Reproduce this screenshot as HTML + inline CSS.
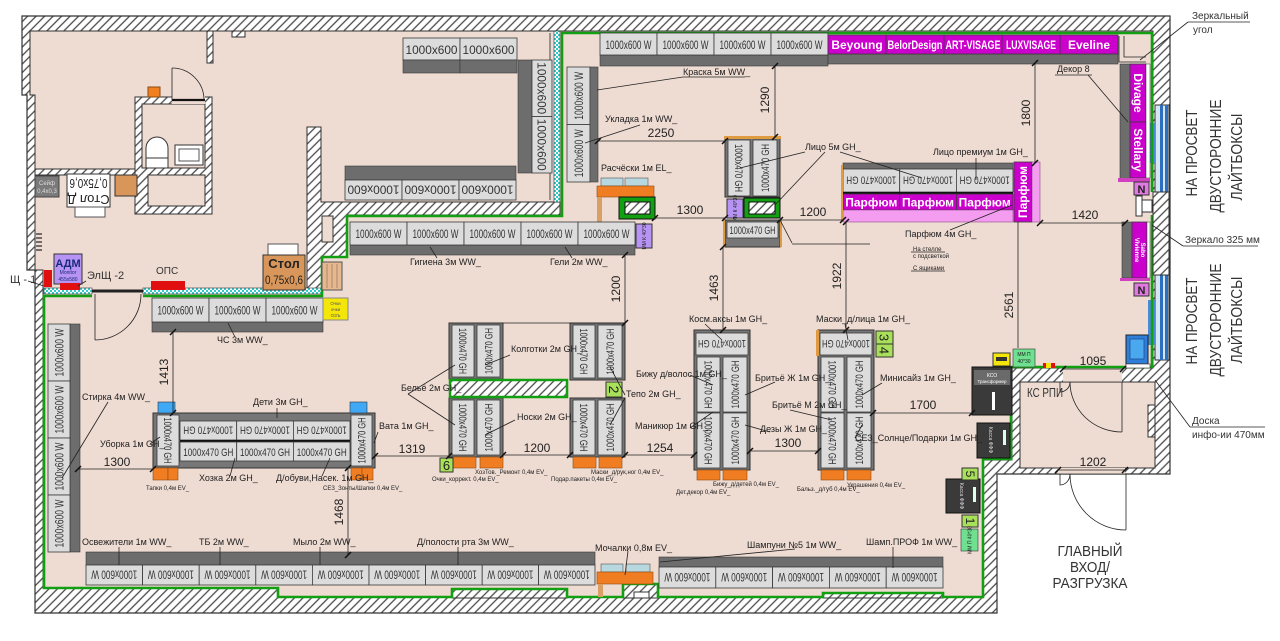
<!DOCTYPE html>
<html><head><meta charset="utf-8">
<style>
html,body{margin:0;padding:0;background:#fff;}
svg{display:block;font-family:"Liberation Sans",sans-serif;}
.l{fill:#dcdcdc;stroke:#3a3a3a;stroke-width:.8}
.d{fill:#6d6d6d;stroke:#3a3a3a;stroke-width:.6}
.m{fill:#cc00cc;stroke:#3a3a3a;stroke-width:.8}
.p{fill:#f39cf0;stroke:#7a3a7a;stroke-width:.5}
.o{fill:#f07d22;stroke:#8a4a10;stroke-width:.6}
.tx{font-size:12px;fill:#333}
.tg{font-size:11px;fill:#333}
.bw{font-size:12px;font-weight:bold;fill:#fff}
.lb{font-size:9px;fill:#222}
.sl{font-size:6px;fill:#222}
.dm{font-size:12px;fill:#222}
.ln{stroke:#222;stroke-width:.8;fill:none}
.tk{stroke:#111;stroke-width:1.5;fill:none}
.hw{fill:url(#h);stroke:#333;stroke-width:1}
.g{stroke:#12a012;stroke-width:2.6;fill:none}
</style></head><body>
<svg width="1280" height="641" viewBox="0 0 1280 641" xmlns="http://www.w3.org/2000/svg">
<defs>
<pattern id="h" width="6" height="6" patternUnits="userSpaceOnUse" patternTransform="rotate(45)">
<rect width="6" height="6" fill="#fff"/><line x1="1" y1="0" x2="1" y2="6" stroke="#4a4a4a" stroke-width="1.3"/></pattern>
<pattern id="cy" width="4" height="4" patternUnits="userSpaceOnUse"><rect width="4" height="4" fill="#fff"/><rect width="2" height="2" fill="#3cc"/><rect x="2" y="2" width="2" height="2" fill="#3cc"/></pattern>
</defs>
<rect width="1280" height="641" fill="#fff"/>

<!-- Outer walls and floor -->
<polygon points="22,16 1170,16 1170,474 997,474 997,613 35,613 35,270 27,270 27,95 22,95" fill="url(#h)" stroke="#333" stroke-width="1.2"/>
<polygon points="30,31 1153,31 1153,368 1012,368 1012,460 983,460 983,597 278,597 278,588 43,588 43,270 35,270 35,95 30,95" fill="#eedbd2" stroke="#333" stroke-width="1"/>
<rect x="1020" y="382" width="135" height="86" fill="#eedbd2" stroke="#333"/>
<rect x="1063" y="368" width="59" height="14" fill="#eedbd2"/>
<line x1="1063" y1="382" x2="1122" y2="382" class="ln"/>
<rect x="1058" y="468" width="67" height="6" fill="#eedbd2"/>
<line x1="1058" y1="474" x2="1125" y2="474" class="ln"/>
<rect x="1148" y="405" width="7" height="32" class="hw"/>

<!-- bottom wall bumps -->
<rect x="452" y="589" width="115" height="9" class="hw"/>
<rect x="623" y="584" width="35" height="14" class="hw"/>
<rect x="634" y="592" width="15" height="6" fill="#fff" stroke="#333"/>
<rect x="823" y="593" width="120" height="5" class="hw"/>

<!-- Right wall lightboxes -->
<rect x="1155" y="105" width="14" height="87" fill="#d6e6f2" stroke="#333"/>
<rect x="1160" y="105" width="3" height="87" fill="#2c6fc0"/>
<rect x="1165" y="105" width="3" height="87" fill="#2c6fc0"/>
<rect x="1148" y="123" width="7" height="40" fill="#4a8ad8"/>
<rect x="1155" y="275" width="14" height="85" fill="#d6e6f2" stroke="#333"/>
<rect x="1160" y="275" width="3" height="85" fill="#2c6fc0"/>
<rect x="1165" y="275" width="3" height="85" fill="#2c6fc0"/>
<rect x="1148" y="300" width="7" height="45" fill="#4a8ad8"/>

<!-- Back office inner walls -->
<rect x="207" y="31" width="6" height="32" class="hw"/>
<rect x="232" y="31" width="13" height="6" class="hw"/>
<rect x="135" y="97" width="77" height="117" class="hw"/>
<rect x="142" y="104" width="63" height="64" fill="#eedbd2" stroke="#333"/>
<rect x="148" y="175" width="57" height="31" fill="#eedbd2" stroke="#333"/>
<rect x="172" y="96" width="33" height="8" fill="#eedbd2"/>
<line x1="172" y1="100" x2="205" y2="100" stroke="#111" stroke-width="2.2"/>
<line x1="172" y1="100" x2="172" y2="68" class="ln"/>
<path d="M172,68 A32,32 0 0 1 204,100" class="ln"/>
<rect x="35" y="169" width="100" height="6" class="hw"/>
<polygon points="307,127 321,127 321,202 560,202 560,215 347,215 347,257 322,257 322,290 307,290" class="hw"/>
<rect x="322" y="216" width="11" height="26" fill="#eedbd2" stroke="#333"/>
<rect x="554" y="31" width="6" height="171" fill="url(#cy)" stroke="#333" stroke-width=".6"/>
<line x1="550" y1="33" x2="550" y2="200" class="ln"/>

<!-- toilet and sink -->
<path d="M146,168 L146,148 A11,11 0 0 1 168,148 L168,168 Z" fill="#fff" stroke="#333"/>
<rect x="146" y="158" width="22" height="10" fill="#fff" stroke="#333"/>
<rect x="175" y="145" width="28" height="20" fill="#fff" stroke="#333"/>
<rect x="179" y="149" width="20" height="12" fill="#fff" stroke="#555"/>
<rect x="148" y="87" width="12" height="10" fill="#f08020" stroke="#8a4a10"/>

<!-- partition to sales floor -->
<rect x="44" y="288" width="48" height="6" fill="url(#cy)" stroke="#333" stroke-width=".6"/>
<rect x="143" y="288" width="179" height="6" fill="url(#cy)" stroke="#333" stroke-width=".6"/>
<line x1="92" y1="291" x2="143" y2="291" stroke="#222" stroke-width="3"/>
<line x1="95" y1="294" x2="95" y2="340" class="ln"/>
<path d="M95,340 A46,46 0 0 0 141,294" class="ln"/>

<!-- green perimeter -->
<polyline class="g" points="143,296 322,296 322,257 347,257 347,216 562,216 562,33 1152,33 1152,192"/>
<polyline class="g" points="1152,215 1152,367 1011,367 1011,459 983,459 983,597 943,597 943,593 823,593 823,597 658,597 658,584 623,584 623,597 567,597 567,589 452,589 452,597 278,597 278,588 44,588 44,296 92,296"/>

<!-- back office furniture -->
<rect x="35" y="176" width="24" height="21" fill="#7a7a7a" stroke="#444"/>
<text x="47" y="185" class="sl" text-anchor="middle" style="fill:#ddd">Сейф</text>
<text x="47" y="193" class="sl" text-anchor="middle" style="fill:#ddd">0,4x0,3</text>
<rect x="67" y="174" width="43" height="33" fill="#fff" stroke="#333"/>
<text transform="translate(88.5 199) rotate(180)" text-anchor="middle" dy="4" font-size="13" fill="#222">Стол Д</text>
<text transform="translate(88.5 183) rotate(180)" text-anchor="middle" dy="4" font-size="13" fill="#222" textLength="38" lengthAdjust="spacingAndGlyphs">0,75x0,6</text>
<rect x="75" y="207" width="30" height="10" fill="#fff" stroke="#555"/>
<rect x="115" y="175" width="22" height="21" fill="#d9965a" stroke="#333"/>
<g stroke="#222" stroke-width="1.2"><line x1="36" y1="234" x2="42" y2="234"/><line x1="36" y1="238" x2="42" y2="238"/><line x1="36" y1="242" x2="42" y2="242"/><line x1="36" y1="246" x2="42" y2="246"/><line x1="36" y1="250" x2="42" y2="250"/></g>
<rect x="54" y="254" width="28" height="30" fill="#b794f4" stroke="#333"/>
<text x="68" y="267" text-anchor="middle" font-size="11" font-weight="bold" fill="#1a2a7a">АДМ</text>
<text x="68" y="274" text-anchor="middle" font-size="5" fill="#1a2a7a">Monitor</text>
<text x="68" y="281" text-anchor="middle" font-size="5" fill="#1a2a7a">455x580</text>
<rect x="44" y="270" width="8" height="17" fill="#e01010"/>
<rect x="60" y="283" width="20" height="7" fill="#e01010"/>
<text x="10" y="283" font-size="11" fill="#333">Щ - 1</text>
<line x1="28" y1="281" x2="44" y2="286" class="ln"/>
<text x="87" y="279" font-size="11" fill="#333">ЭлЩ -2</text>
<line x1="86" y1="281" x2="78" y2="286" class="ln"/>
<rect x="151" y="281" width="34" height="9" fill="#e01010"/>
<text x="156" y="274" font-size="10" fill="#333">ОПС</text>
<rect x="268" y="244" width="30" height="11" fill="#fff" stroke="#555"/>
<rect x="263" y="255" width="42" height="35" fill="#d9965a" stroke="#333"/>
<text x="284" y="268" text-anchor="middle" font-size="13" font-weight="bold" fill="#222">Стол</text>
<text x="284" y="284" text-anchor="middle" font-size="12" fill="#222" textLength="38" lengthAdjust="spacingAndGlyphs">0,75x0,6</text>
<rect x="322" y="262" width="20" height="28" fill="#e6b890" stroke="#555"/>
<g stroke="#8a6a50" stroke-width=".6"><line x1="327" y1="264" x2="327" y2="288"/><line x1="332" y1="264" x2="332" y2="288"/><line x1="337" y1="264" x2="337" y2="288"/></g>

<!-- back office shelves -->
<rect class="l" x="403" y="38" width="57" height="22"/><rect class="d" x="403" y="60" width="57" height="13"/>
<rect class="l" x="460" y="38" width="57" height="22"/><rect class="d" x="460" y="60" width="57" height="13"/>
<text class="tx" x="431.5" y="54" text-anchor="middle" font-size="13" textLength="52" lengthAdjust="spacingAndGlyphs">1000x600</text>
<text class="tx" x="488.5" y="54" text-anchor="middle" font-size="13" textLength="52" lengthAdjust="spacingAndGlyphs">1000x600</text>
<rect class="d" x="518" y="60" width="14" height="113"/>
<rect class="l" x="532" y="60" width="20" height="56.5"/><rect class="l" x="532" y="116.5" width="20" height="56.5"/>
<text class="tx" transform="translate(542 88.25) rotate(90)" dy="4.5" text-anchor="middle" font-size="13" textLength="52" lengthAdjust="spacingAndGlyphs">1000x600</text>
<text class="tx" transform="translate(542 144.75) rotate(90)" dy="4.5" text-anchor="middle" font-size="13" textLength="52" lengthAdjust="spacingAndGlyphs">1000x600</text>
<rect class="d" x="345" y="166" width="171" height="14"/>
<rect class="l" x="345" y="180" width="57" height="20"/><rect class="l" x="402" y="180" width="57" height="20"/><rect class="l" x="459" y="180" width="57" height="20"/>
<text class="tx" transform="translate(373.5 190) rotate(180)" dy="4.5" text-anchor="middle" font-size="13" textLength="52" lengthAdjust="spacingAndGlyphs">1000x600</text>
<text class="tx" transform="translate(430.5 190) rotate(180)" dy="4.5" text-anchor="middle" font-size="13" textLength="52" lengthAdjust="spacingAndGlyphs">1000x600</text>
<text class="tx" transform="translate(487.5 190) rotate(180)" dy="4.5" text-anchor="middle" font-size="13" textLength="52" lengthAdjust="spacingAndGlyphs">1000x600</text>

<!-- Top row WW -->
<rect class="d" x="600" y="55" width="228" height="11"/>
<rect class="l" x="600" y="33" width="57" height="22"/><rect class="l" x="657" y="33" width="57" height="22"/><rect class="l" x="714" y="33" width="57" height="22"/><rect class="l" x="771" y="33" width="57" height="22"/>
<text class="tx" x="628.5" y="49" text-anchor="middle" textLength="46" lengthAdjust="spacingAndGlyphs">1000x600 W</text>
<text class="tx" x="685.5" y="49" text-anchor="middle" textLength="46" lengthAdjust="spacingAndGlyphs">1000x600 W</text>
<text class="tx" x="742.5" y="49" text-anchor="middle" textLength="46" lengthAdjust="spacingAndGlyphs">1000x600 W</text>
<text class="tx" x="799.5" y="49" text-anchor="middle" textLength="46" lengthAdjust="spacingAndGlyphs">1000x600 W</text>

<!-- Magenta brands -->
<rect class="d" x="828" y="54" width="290" height="10"/>
<rect class="m" x="828" y="35" width="58" height="19"/><rect class="m" x="886" y="35" width="58" height="19"/><rect class="m" x="944" y="35" width="58" height="19"/><rect class="m" x="1002" y="35" width="58" height="19"/><rect class="m" x="1060" y="35" width="58" height="19"/>
<text class="bw" x="857" y="49" text-anchor="middle">Beyoung</text>
<text class="bw" x="915" y="49" text-anchor="middle" textLength="55" lengthAdjust="spacingAndGlyphs">BelorDesign</text>
<text class="bw" x="973" y="49" text-anchor="middle" textLength="55" lengthAdjust="spacingAndGlyphs">ART-VISAGE</text>
<text class="bw" x="1031" y="49" text-anchor="middle" textLength="50" lengthAdjust="spacingAndGlyphs">LUXVISAGE</text>
<text class="bw" x="1089" y="49" text-anchor="middle">Eveline</text>

<!-- mirror corner -->
<polyline points="1119,36 1119,62 1146,62" class="ln" stroke-width="1.2"/>
<polyline points="1124,36 1124,57 1146,57" class="ln"/>

<!-- Right wall shelves -->
<rect class="d" x="1120" y="64" width="10" height="116"/>
<rect class="m" x="1130" y="64" width="16" height="58"/><rect class="m" x="1130" y="122" width="16" height="56"/>
<rect x="1146" y="64" width="4" height="114" fill="#fff" stroke="#333" stroke-width=".5"/>
<text class="bw" transform="translate(1138 93) rotate(90)" dy="4" text-anchor="middle" font-size="11">Divage</text>
<text class="bw" transform="translate(1138 150) rotate(90)" dy="4" text-anchor="middle" font-size="11">Stellary</text>
<rect x="1118" y="178" width="32" height="4" fill="#d040c0"/>
<rect x="1134" y="182" width="15" height="13" fill="#e07ae0" stroke="#333"/>
<text x="1141.5" y="193" text-anchor="middle" font-size="11" font-weight="bold" fill="#222">N</text>
<rect x="1136" y="196" width="6" height="20" fill="#fff" stroke="#333"/>
<rect x="1142" y="200" width="10" height="12" fill="#fff" stroke="#333"/>
<rect class="hw" x="1153" y="192" width="16" height="83"/>
<rect class="d" x="1122" y="222" width="10" height="56"/>
<rect class="m" x="1132" y="222" width="15" height="56"/>
<rect x="1147" y="222" width="3" height="56" fill="#fff" stroke="#333" stroke-width=".5"/>
<text transform="translate(1137 250) rotate(90)" dy="2" text-anchor="middle" font-size="6" fill="#fff" font-weight="bold">Vivienne</text>
<text transform="translate(1143 250) rotate(90)" dy="2" text-anchor="middle" font-size="6" fill="#fff" font-weight="bold">Sabo</text>
<rect x="1120" y="278" width="30" height="3" fill="#d040c0"/>
<rect x="1134" y="283" width="15" height="13" fill="#e07ae0" stroke="#333"/>
<text x="1141.5" y="294" text-anchor="middle" font-size="11" font-weight="bold" fill="#222">N</text>

<!-- Column near top-left of sales -->
<rect class="l" x="567" y="67" width="23" height="57.5"/><rect class="l" x="567" y="124.5" width="23" height="57.5"/><rect class="d" x="590" y="67" width="8" height="115"/>
<text class="tx" transform="translate(578.5 95.75) rotate(-90)" dy="4.5" text-anchor="middle" textLength="48" lengthAdjust="spacingAndGlyphs">1000x600 W</text>
<text class="tx" transform="translate(578.5 153.25) rotate(-90)" dy="4.5" text-anchor="middle" textLength="48" lengthAdjust="spacingAndGlyphs">1000x600 W</text>

<!-- Расчёски table -->
<rect x="601" y="178" width="22" height="8" fill="#b8d8e0" stroke="#555" stroke-width=".6"/>
<rect x="625" y="178" width="23" height="8" fill="#b8d8e0" stroke="#555" stroke-width=".6"/>
<rect class="o" x="597" y="186" width="57" height="11"/>
<rect x="597" y="197" width="5" height="25" fill="#d9a066"/>
<rect x="619" y="197" width="36" height="22" fill="#12a012" stroke="#111"/>
<rect x="625" y="202" width="25" height="12" fill="url(#h)" stroke="#111"/>

<!-- Лицо island -->
<rect x="725" y="137" width="55" height="60" fill="#777" stroke="#333"/>
<rect x="724" y="136" width="57" height="3" fill="#e09a40"/>
<rect class="l" x="728" y="140" width="22" height="56"/><rect class="l" x="753" y="140" width="24" height="56"/>
<text class="tg" transform="translate(739 168) rotate(90)" dy="4" text-anchor="middle" textLength="48" lengthAdjust="spacingAndGlyphs">1000x470 GH</text>
<text class="tg" transform="translate(765 168) rotate(-90)" dy="4" text-anchor="middle" textLength="48" lengthAdjust="spacingAndGlyphs">1000x470 GH</text>
<rect x="727" y="199" width="16" height="19" fill="#b794f4" stroke="#333"/>
<text transform="translate(735 208.5) rotate(-90)" dy="2" text-anchor="middle" font-size="5" fill="#222">ММ К 40*30</text>
<rect x="744" y="198" width="36" height="20" fill="#12a012" stroke="#111"/>
<rect x="749" y="202" width="26" height="12" fill="url(#h)" stroke="#111"/>
<rect x="725" y="220" width="55" height="27" fill="#777" stroke="#333"/>
<rect class="l" x="727" y="222" width="51" height="16"/>
<text class="tg" x="752.5" y="234" text-anchor="middle" textLength="46" lengthAdjust="spacingAndGlyphs">1000x470 GH</text>
<rect x="723" y="220" width="2" height="27" fill="#e09a40"/><rect x="780" y="220" width="2" height="27" fill="#e09a40"/>

<!-- Парфюм island -->
<rect class="d" x="843" y="163" width="170" height="6"/>
<rect class="l" x="843" y="169" width="56.7" height="23"/><rect class="l" x="899.7" y="169" width="56.7" height="23"/><rect class="l" x="956.4" y="169" width="56.6" height="23"/>
<text class="tg" transform="translate(871.3 180.5) rotate(180)" dy="4" text-anchor="middle" textLength="50" lengthAdjust="spacingAndGlyphs">1000x470 GH</text>
<text class="tg" transform="translate(928 180.5) rotate(180)" dy="4" text-anchor="middle" textLength="50" lengthAdjust="spacingAndGlyphs">1000x470 GH</text>
<text class="tg" transform="translate(984.7 180.5) rotate(180)" dy="4" text-anchor="middle" textLength="50" lengthAdjust="spacingAndGlyphs">1000x470 GH</text>
<rect x="843" y="192" width="170" height="2" fill="#111"/>
<rect class="m" x="843" y="194" width="56.7" height="16"/><rect class="m" x="899.7" y="194" width="56.7" height="16"/><rect class="m" x="956.4" y="194" width="56.6" height="16"/>
<text class="bw" x="871.3" y="206.5" text-anchor="middle">Парфюм</text>
<text class="bw" x="928" y="206.5" text-anchor="middle">Парфюм</text>
<text class="bw" x="984.7" y="206.5" text-anchor="middle">Парфюм</text>
<rect class="p" x="843" y="210" width="170" height="12"/>
<rect x="841" y="165" width="2" height="57" fill="#e09a40"/>
<rect class="m" x="1014" y="162" width="18" height="60"/>
<rect class="p" x="1032" y="162" width="8" height="60"/>
<text class="bw" transform="translate(1023 192) rotate(-90)" dy="4" text-anchor="middle" font-size="11">Парфюм</text>

<!-- Middle row WW -->
<rect class="d" x="350" y="245" width="285" height="10"/>
<rect class="l" x="350" y="222" width="57" height="23"/><rect class="l" x="407" y="222" width="57" height="23"/><rect class="l" x="464" y="222" width="57" height="23"/><rect class="l" x="521" y="222" width="57" height="23"/><rect class="l" x="578" y="222" width="57" height="23"/>
<text class="tx" x="378.5" y="238" text-anchor="middle" textLength="46" lengthAdjust="spacingAndGlyphs">1000x600 W</text>
<text class="tx" x="435.5" y="238" text-anchor="middle" textLength="46" lengthAdjust="spacingAndGlyphs">1000x600 W</text>
<text class="tx" x="492.5" y="238" text-anchor="middle" textLength="46" lengthAdjust="spacingAndGlyphs">1000x600 W</text>
<text class="tx" x="549.5" y="238" text-anchor="middle" textLength="46" lengthAdjust="spacingAndGlyphs">1000x600 W</text>
<text class="tx" x="606.5" y="238" text-anchor="middle" textLength="46" lengthAdjust="spacingAndGlyphs">1000x600 W</text>
<rect x="636" y="224" width="16" height="24" fill="#b794f4" stroke="#333"/>
<text transform="translate(644 236) rotate(-90)" dy="2" text-anchor="middle" font-size="5" fill="#222">ММ К 40*30</text>

<!-- ЧС row -->
<rect class="d" x="152" y="322" width="171" height="10"/>
<rect class="l" x="152" y="298" width="57" height="24"/><rect class="l" x="209" y="298" width="57" height="24"/><rect class="l" x="266" y="298" width="57" height="24"/>
<text class="tx" x="180.5" y="314.5" text-anchor="middle" textLength="46" lengthAdjust="spacingAndGlyphs">1000x600 W</text>
<text class="tx" x="237.5" y="314.5" text-anchor="middle" textLength="46" lengthAdjust="spacingAndGlyphs">1000x600 W</text>
<text class="tx" x="294.5" y="314.5" text-anchor="middle" textLength="46" lengthAdjust="spacingAndGlyphs">1000x600 W</text>
<rect x="323" y="298" width="25" height="22" fill="#f5e60a" stroke="#888"/>
<text x="335.5" y="305" text-anchor="middle" font-size="4.5" fill="#555">Очки</text>
<text x="335.5" y="311" text-anchor="middle" font-size="4.5" fill="#555">очки</text>
<text x="335.5" y="317" text-anchor="middle" font-size="4.5" fill="#555">ОЗЪ</text>

<!-- Left column -->
<rect class="d" x="70" y="324" width="10" height="228"/>
<rect class="l" x="48" y="324" width="22" height="57"/><rect class="l" x="48" y="381" width="22" height="57"/><rect class="l" x="48" y="438" width="22" height="57"/><rect class="l" x="48" y="495" width="22" height="57"/>
<text class="tx" transform="translate(59 352.5) rotate(-90)" dy="4.5" text-anchor="middle" textLength="48" lengthAdjust="spacingAndGlyphs">1000x600 W</text>
<text class="tx" transform="translate(59 409.5) rotate(-90)" dy="4.5" text-anchor="middle" textLength="48" lengthAdjust="spacingAndGlyphs">1000x600 W</text>
<text class="tx" transform="translate(59 466.5) rotate(-90)" dy="4.5" text-anchor="middle" textLength="48" lengthAdjust="spacingAndGlyphs">1000x600 W</text>
<text class="tx" transform="translate(59 523.5) rotate(-90)" dy="4.5" text-anchor="middle" textLength="48" lengthAdjust="spacingAndGlyphs">1000x600 W</text>

<!-- Дети island -->
<rect x="153" y="413" width="222" height="55" fill="#777" stroke="#333"/>
<rect class="l" x="157" y="415" width="22" height="51"/><rect class="l" x="351" y="415" width="21" height="51"/>
<text class="tg" transform="translate(168 440.5) rotate(90)" dy="4" text-anchor="middle" textLength="46" lengthAdjust="spacingAndGlyphs">1000x470 GH</text>
<text class="tg" transform="translate(361.5 440.5) rotate(-90)" dy="4" text-anchor="middle" textLength="46" lengthAdjust="spacingAndGlyphs">1000x470 GH</text>
<rect class="l" x="180" y="421" width="56.7" height="19"/><rect class="l" x="236.7" y="421" width="56.7" height="19"/><rect class="l" x="293.4" y="421" width="56.6" height="19"/>
<rect x="180" y="440" width="170" height="2" fill="#111"/>
<rect class="l" x="180" y="442" width="56.7" height="19"/><rect class="l" x="236.7" y="442" width="56.7" height="19"/><rect class="l" x="293.4" y="442" width="56.6" height="19"/>
<text class="tg" transform="translate(208.3 430.5) rotate(180)" dy="4" text-anchor="middle" textLength="50" lengthAdjust="spacingAndGlyphs">1000x470 GH</text>
<text class="tg" transform="translate(265 430.5) rotate(180)" dy="4" text-anchor="middle" textLength="50" lengthAdjust="spacingAndGlyphs">1000x470 GH</text>
<text class="tg" transform="translate(321.7 430.5) rotate(180)" dy="4" text-anchor="middle" textLength="50" lengthAdjust="spacingAndGlyphs">1000x470 GH</text>
<text class="tg" x="208.3" y="456" text-anchor="middle" textLength="50" lengthAdjust="spacingAndGlyphs">1000x470 GH</text>
<text class="tg" x="265" y="456" text-anchor="middle" textLength="50" lengthAdjust="spacingAndGlyphs">1000x470 GH</text>
<text class="tg" x="321.7" y="456" text-anchor="middle" textLength="50" lengthAdjust="spacingAndGlyphs">1000x470 GH</text>
<rect x="158" y="402" width="17" height="11" fill="#3fa9f5" stroke="#333" stroke-width=".6"/>
<rect x="350" y="402" width="17" height="11" fill="#3fa9f5" stroke="#333" stroke-width=".6"/>
<rect class="o" x="153" y="468" width="15" height="12"/><rect class="o" x="168" y="468" width="10" height="12"/>
<rect class="o" x="351" y="468" width="11" height="12"/><rect class="o" x="362" y="468" width="11" height="12"/>

<!-- Island A -->
<rect x="449" y="323" width="54" height="56" fill="#777" stroke="#333"/>
<rect class="l" x="452" y="325" width="22" height="52"/><rect class="l" x="477" y="325" width="23" height="52"/>
<text class="tg" transform="translate(463 351) rotate(90)" dy="4" text-anchor="middle" textLength="46" lengthAdjust="spacingAndGlyphs">1000x470 GH</text>
<text class="tg" transform="translate(488.5 351) rotate(-90)" dy="4" text-anchor="middle" textLength="46" lengthAdjust="spacingAndGlyphs">1000x470 GH</text>
<rect x="449" y="398" width="54" height="59" fill="#777" stroke="#333"/>
<rect class="l" x="452" y="400" width="22" height="55"/><rect class="l" x="477" y="400" width="23" height="55"/>
<text class="tg" transform="translate(463 427.5) rotate(90)" dy="4" text-anchor="middle" textLength="48" lengthAdjust="spacingAndGlyphs">1000x470 GH</text>
<text class="tg" transform="translate(488.5 427.5) rotate(-90)" dy="4" text-anchor="middle" textLength="48" lengthAdjust="spacingAndGlyphs">1000x470 GH</text>
<rect x="450" y="380" width="117" height="17" fill="url(#h)" stroke="#12a012" stroke-width="2.5"/>
<rect class="o" x="453" y="457" width="23" height="11"/><rect class="o" x="480" y="457" width="23" height="11"/>
<rect x="440" y="458" width="13" height="14" fill="#a8e05a" stroke="#333"/>
<text x="446.5" y="470" text-anchor="middle" font-size="13" fill="#222">6</text>

<!-- Island B -->
<rect x="570" y="323" width="55" height="57" fill="#777" stroke="#333"/>
<rect class="l" x="573" y="325" width="22" height="53"/><rect class="l" x="598" y="325" width="24" height="53"/>
<text class="tg" transform="translate(584 351.5) rotate(90)" dy="4" text-anchor="middle" textLength="46" lengthAdjust="spacingAndGlyphs">1000x470 GH</text>
<text class="tg" transform="translate(610 351.5) rotate(-90)" dy="4" text-anchor="middle" textLength="46" lengthAdjust="spacingAndGlyphs">1000x470 GH</text>
<rect x="570" y="398" width="55" height="59" fill="#777" stroke="#333"/>
<rect class="l" x="573" y="400" width="22" height="55"/><rect class="l" x="598" y="400" width="24" height="55"/>
<text class="tg" transform="translate(584 427.5) rotate(90)" dy="4" text-anchor="middle" textLength="48" lengthAdjust="spacingAndGlyphs">1000x470 GH</text>
<text class="tg" transform="translate(610 427.5) rotate(-90)" dy="4" text-anchor="middle" textLength="48" lengthAdjust="spacingAndGlyphs">1000x470 GH</text>
<rect class="o" x="573" y="457" width="23" height="11"/><rect class="o" x="599" y="457" width="23" height="11"/>
<rect x="606" y="382" width="16" height="15" fill="#a8e05a" stroke="#333"/>
<text transform="translate(614 389.5) rotate(90)" dy="5" text-anchor="middle" font-size="14" fill="#222">2</text>

<!-- Island C -->
<rect x="694" y="330" width="56" height="140" fill="#777" stroke="#333"/>
<rect class="l" x="696" y="333" width="52" height="22"/>
<text class="tg" transform="translate(722 344) rotate(180)" dy="4" text-anchor="middle" textLength="48" lengthAdjust="spacingAndGlyphs">1000x470 GH</text>
<rect class="l" x="697" y="357" width="23" height="55"/><rect class="l" x="723" y="357" width="24" height="55"/>
<rect class="l" x="697" y="413" width="23" height="55"/><rect class="l" x="723" y="413" width="24" height="55"/>
<text class="tg" transform="translate(708.5 384.5) rotate(90)" dy="4" text-anchor="middle" textLength="48" lengthAdjust="spacingAndGlyphs">1000x470 GH</text>
<text class="tg" transform="translate(735 384.5) rotate(-90)" dy="4" text-anchor="middle" textLength="48" lengthAdjust="spacingAndGlyphs">1000x470 GH</text>
<text class="tg" transform="translate(708.5 440.5) rotate(90)" dy="4" text-anchor="middle" textLength="48" lengthAdjust="spacingAndGlyphs">1000x470 GH</text>
<text class="tg" transform="translate(735 440.5) rotate(-90)" dy="4" text-anchor="middle" textLength="48" lengthAdjust="spacingAndGlyphs">1000x470 GH</text>
<rect class="o" x="697" y="470" width="23" height="10"/><rect class="o" x="723" y="470" width="24" height="10"/>

<!-- Island D -->
<rect x="818" y="330" width="56" height="140" fill="#777" stroke="#333"/>
<rect x="816" y="330" width="3" height="26" fill="#e09a40"/>
<rect class="l" x="820" y="333" width="52" height="22"/>
<text class="tg" transform="translate(846 344) rotate(180)" dy="4" text-anchor="middle" textLength="48" lengthAdjust="spacingAndGlyphs">1000x470 GH</text>
<rect class="l" x="821" y="357" width="23" height="55"/><rect class="l" x="847" y="357" width="24" height="55"/>
<rect class="l" x="821" y="413" width="23" height="55"/><rect class="l" x="847" y="413" width="24" height="55"/>
<text class="tg" transform="translate(832.5 384.5) rotate(90)" dy="4" text-anchor="middle" textLength="48" lengthAdjust="spacingAndGlyphs">1000x470 GH</text>
<text class="tg" transform="translate(859 384.5) rotate(-90)" dy="4" text-anchor="middle" textLength="48" lengthAdjust="spacingAndGlyphs">1000x470 GH</text>
<text class="tg" transform="translate(832.5 440.5) rotate(90)" dy="4" text-anchor="middle" textLength="48" lengthAdjust="spacingAndGlyphs">1000x470 GH</text>
<text class="tg" transform="translate(859 440.5) rotate(-90)" dy="4" text-anchor="middle" textLength="48" lengthAdjust="spacingAndGlyphs">1000x470 GH</text>
<rect class="o" x="821" y="470" width="23" height="10"/><rect class="o" x="847" y="470" width="24" height="10"/>
<rect x="876" y="331" width="17" height="13" fill="#a8e05a" stroke="#333"/><rect x="876" y="344" width="17" height="13" fill="#a8e05a" stroke="#333"/>
<text transform="translate(884.5 337.5) rotate(90)" dy="5" text-anchor="middle" font-size="13" fill="#222">3</text>
<text transform="translate(884.5 350.5) rotate(90)" dy="5" text-anchor="middle" font-size="13" fill="#222">4</text>

<!-- Bottom row left -->
<rect class="d" x="86" y="552" width="509" height="13"/>
<g class="l">
<rect x="86" y="565" width="56.6" height="20"/><rect x="142.6" y="565" width="56.6" height="20"/><rect x="199.2" y="565" width="56.6" height="20"/><rect x="255.8" y="565" width="56.6" height="20"/><rect x="312.4" y="565" width="56.6" height="20"/><rect x="369" y="565" width="56.6" height="20"/><rect x="425.6" y="565" width="56.6" height="20"/><rect x="482.2" y="565" width="56.4" height="20"/><rect x="538.6" y="565" width="56.4" height="20"/>
</g>
<g class="tx" text-anchor="middle">
<text transform="translate(114.3 575) rotate(180)" dy="4.5" textLength="46" lengthAdjust="spacingAndGlyphs">1000x600 W</text>
<text transform="translate(170.9 575) rotate(180)" dy="4.5" textLength="46" lengthAdjust="spacingAndGlyphs">1000x600 W</text>
<text transform="translate(227.5 575) rotate(180)" dy="4.5" textLength="46" lengthAdjust="spacingAndGlyphs">1000x600 W</text>
<text transform="translate(284.1 575) rotate(180)" dy="4.5" textLength="46" lengthAdjust="spacingAndGlyphs">1000x600 W</text>
<text transform="translate(340.7 575) rotate(180)" dy="4.5" textLength="46" lengthAdjust="spacingAndGlyphs">1000x600 W</text>
<text transform="translate(397.3 575) rotate(180)" dy="4.5" textLength="46" lengthAdjust="spacingAndGlyphs">1000x600 W</text>
<text transform="translate(453.9 575) rotate(180)" dy="4.5" textLength="46" lengthAdjust="spacingAndGlyphs">1000x600 W</text>
<text transform="translate(510.4 575) rotate(180)" dy="4.5" textLength="46" lengthAdjust="spacingAndGlyphs">1000x600 W</text>
<text transform="translate(566.8 575) rotate(180)" dy="4.5" textLength="46" lengthAdjust="spacingAndGlyphs">1000x600 W</text>
</g>

<!-- Мочалки table -->
<rect x="601" y="564" width="22" height="8" fill="#b8d8e0" stroke="#555" stroke-width=".6"/>
<rect x="626" y="564" width="24" height="8" fill="#b8d8e0" stroke="#555" stroke-width=".6"/>
<rect class="o" x="597" y="572" width="56" height="12"/>
<rect x="598" y="584" width="5" height="13" fill="#d9a066"/>

<!-- Bottom row right -->
<rect class="d" x="659" y="557" width="284" height="10"/>
<g class="l"><rect x="659" y="567" width="56.8" height="21"/><rect x="715.8" y="567" width="56.8" height="21"/><rect x="772.6" y="567" width="56.8" height="21"/><rect x="829.4" y="567" width="56.8" height="21"/><rect x="886.2" y="567" width="56.8" height="21"/></g>
<g class="tx" text-anchor="middle">
<text transform="translate(687.4 577.5) rotate(180)" dy="4.5" textLength="46" lengthAdjust="spacingAndGlyphs">1000x600 W</text>
<text transform="translate(744.2 577.5) rotate(180)" dy="4.5" textLength="46" lengthAdjust="spacingAndGlyphs">1000x600 W</text>
<text transform="translate(801 577.5) rotate(180)" dy="4.5" textLength="46" lengthAdjust="spacingAndGlyphs">1000x600 W</text>
<text transform="translate(857.8 577.5) rotate(180)" dy="4.5" textLength="46" lengthAdjust="spacingAndGlyphs">1000x600 W</text>
<text transform="translate(914.6 577.5) rotate(180)" dy="4.5" textLength="46" lengthAdjust="spacingAndGlyphs">1000x600 W</text>
</g>

<!-- Checkout area -->
<rect x="993" y="353" width="17" height="13" fill="#f5e60a" stroke="#333"/>
<rect x="996" y="357" width="11" height="4" fill="#333"/>
<rect x="1013" y="349" width="22" height="18" fill="#6fe08f" stroke="#333" stroke-width=".6"/>
<text x="1024" y="356" text-anchor="middle" font-size="5" fill="#222">ММ П</text>
<text x="1024" y="363" text-anchor="middle" font-size="5" fill="#222">40*30</text>
<rect x="972" y="367" width="40" height="48" fill="#3a3a3a" stroke="#111"/>
<rect x="974" y="370" width="36" height="15" fill="#6a6a6a"/>
<text x="992" y="377" text-anchor="middle" font-size="5" fill="#fff">КСО</text>
<text x="992" y="383" text-anchor="middle" font-size="4.5" fill="#fff">Трансформер</text>
<rect x="992" y="392" width="3" height="18" fill="#fff"/>
<rect x="977" y="423" width="33" height="35" fill="#3a3a3a" stroke="#111"/>
<text transform="translate(991 440) rotate(90)" dy="2" text-anchor="middle" font-size="5" fill="#ddd">Касса ФФФ</text>
<rect x="1003" y="430" width="3" height="15" fill="#dfe"/>
<rect x="946" y="479" width="34" height="34" fill="#3a3a3a" stroke="#111"/>
<text transform="translate(962 496) rotate(90)" dy="2" text-anchor="middle" font-size="5" fill="#ddd">Касса ФФФ</text>
<rect x="973" y="487" width="3" height="15" fill="#dfe"/>
<rect x="962" y="468" width="16" height="12" fill="#a8e05a" stroke="#333"/>
<text transform="translate(970 474) rotate(90)" dy="4" text-anchor="middle" font-size="12" fill="#222">5</text>
<rect x="962" y="515" width="16" height="12" fill="#a8e05a" stroke="#333"/>
<text transform="translate(970 521) rotate(90)" dy="4" text-anchor="middle" font-size="12" fill="#222">1</text>
<rect x="961" y="529" width="17" height="22" fill="#6fe08f" stroke="#333" stroke-width=".6"/>
<text transform="translate(969.5 540) rotate(-90)" dy="2" text-anchor="middle" font-size="5" fill="#222">ММ П 40*30</text>
<rect x="1043" y="363" width="12" height="5" fill="#e01010"/><rect x="1046" y="363" width="5" height="5" fill="#f5e60a"/>
<text x="1027" y="397" font-size="13" fill="#333" textLength="36" lengthAdjust="spacingAndGlyphs">КС  РПИ</text>
<path d="M1060,382 L1060,392 A10,10 0 0 0 1070,382" class="ln"/>
<line x1="1122" y1="382" x2="1122" y2="432" class="ln"/>
<path d="M1070,382 A52,50 0 0 0 1122,432" class="ln"/>
<path d="M1060,474 L1060,485 A10,11 0 0 0 1070,474" class="ln"/>
<line x1="1126" y1="474" x2="1126" y2="530" class="ln"/>
<path d="M1070,474 A56,56 0 0 0 1126,530" class="ln"/>
<rect x="1126" y="335" width="22" height="29" fill="#2f7fd8" stroke="#222"/>
<rect x="1130" y="339" width="14" height="20" fill="#4aa8ee" stroke="#1a3a7a" stroke-width=".6"/>
<rect x="1126" y="364" width="24" height="4" fill="#fff" stroke="#333" stroke-width=".6"/>

<!-- Dimension lines -->
<g class="ln">
<line x1="598" y1="141" x2="725" y2="141"/>
<line x1="775" y1="66" x2="775" y2="137"/>
<line x1="655" y1="218" x2="725" y2="218"/>
<line x1="780" y1="220" x2="843" y2="220"/>
<line x1="1035" y1="63" x2="1035" y2="163"/>
<line x1="1040" y1="223" x2="1125" y2="223"/>
<line x1="625" y1="255" x2="625" y2="323"/>
<line x1="503" y1="323" x2="625" y2="323"/>
<line x1="723" y1="247" x2="723" y2="330"/>
<line x1="846" y1="222" x2="846" y2="330"/>
<line x1="1018" y1="222" x2="1018" y2="348"/>
<line x1="1063" y1="369" x2="1123" y2="369"/>
<line x1="1058" y1="470" x2="1125" y2="470"/>
<line x1="873" y1="413" x2="972" y2="413"/>
<line x1="750" y1="451" x2="818" y2="451"/>
<line x1="625" y1="455" x2="694" y2="455"/>
<line x1="503" y1="455" x2="570" y2="455"/>
<line x1="375" y1="456" x2="449" y2="456"/>
<line x1="78" y1="469" x2="153" y2="469"/>
<line x1="173" y1="332" x2="173" y2="413"/>
<line x1="348" y1="468" x2="348" y2="555"/>
</g>
<g class="tk">
<path d="M595,144 L601,138 M722,144 L728,138"/>
<path d="M772,69 L778,63 M772,140 L778,134"/>
<path d="M652,221 L658,215 M722,221 L728,215"/>
<path d="M777,223 L783,217 M840,223 L846,217"/>
<path d="M1032,66 L1038,60 M1032,166 L1038,160"/>
<path d="M1037,226 L1043,220 M1122,226 L1128,220"/>
<path d="M622,258 L628,252 M622,326 L628,320"/>
<path d="M720,250 L726,244 M720,333 L726,327"/>
<path d="M843,225 L849,219 M843,333 L849,327"/>
<path d="M1060,372 L1066,366 M1120,372 L1126,366"/>
<path d="M1055,473 L1061,467 M1122,473 L1128,467"/>
<path d="M870,416 L876,410 M969,416 L975,410"/>
<path d="M747,454 L753,448 M815,454 L821,448"/>
<path d="M622,458 L628,452 M691,458 L697,452"/>
<path d="M500,458 L506,452 M567,458 L573,452"/>
<path d="M372,459 L378,453 M446,459 L452,453"/>
<path d="M75,472 L81,466 M150,472 L156,466"/>
<path d="M170,335 L176,329 M170,416 L176,410"/>
<path d="M345,471 L351,465 M345,558 L351,552"/>
</g>
<g class="dm" text-anchor="middle">
<text x="661" y="137">2250</text>
<text transform="translate(769 100) rotate(-90)">1290</text>
<text x="690" y="214">1300</text>
<text x="813" y="216">1200</text>
<text transform="translate(1030 113) rotate(-90)">1800</text>
<text x="1085" y="219">1420</text>
<text transform="translate(620 289) rotate(-90)">1200</text>
<text transform="translate(718 288) rotate(-90)">1463</text>
<text transform="translate(841 276) rotate(-90)">1922</text>
<text transform="translate(1013 305) rotate(-90)">2561</text>
<text x="1093" y="365">1095</text>
<text x="1093" y="466">1202</text>
<text x="923" y="409">1700</text>
<text x="788" y="447">1300</text>
<text x="660" y="452">1254</text>
<text x="537" y="452">1200</text>
<text x="412" y="453">1319</text>
<text x="117" y="466">1300</text>
<text transform="translate(168 372) rotate(-90)">1413</text>
<text transform="translate(343 512) rotate(-90)">1468</text>
</g>

<!-- Leader labels -->
<g class="ln">
<line x1="597" y1="90" x2="683" y2="77"/><line x1="683" y1="77" x2="745" y2="77"/>
<line x1="585" y1="143" x2="640" y2="125"/>
<line x1="740" y1="168" x2="805" y2="152"/><line x1="775" y1="205" x2="825" y2="152"/><line x1="840" y1="152" x2="922" y2="178"/>
<line x1="780" y1="220" x2="792" y2="243"/><line x1="792" y1="244" x2="870" y2="244"/>
<line x1="976" y1="158" x2="976" y2="180"/>
<line x1="950" y1="230" x2="1012" y2="205"/>
<line x1="1055" y1="75" x2="1092" y2="75"/><line x1="1088" y1="75" x2="1128" y2="122"/>
<line x1="1140" y1="60" x2="1188" y2="22"/><line x1="1188" y1="22" x2="1250" y2="22"/>
<line x1="1152" y1="225" x2="1183" y2="246"/><line x1="1183" y1="246" x2="1258" y2="246"/>
<line x1="1155" y1="380" x2="1190" y2="427"/><line x1="1190" y1="427" x2="1265" y2="427"/>
<line x1="437" y1="258" x2="430" y2="247"/><line x1="572" y1="258" x2="565" y2="247"/>
<line x1="235" y1="337" x2="228" y2="323"/>
<line x1="108" y1="402" x2="62" y2="478"/>
<line x1="277" y1="408" x2="277" y2="418"/>
<line x1="150" y1="444" x2="160" y2="437"/>
<line x1="378" y1="432" x2="374" y2="443"/>
<line x1="230" y1="476" x2="235" y2="458"/><line x1="322" y1="476" x2="330" y2="458"/>
<line x1="408" y1="394" x2="455" y2="365"/><line x1="408" y1="394" x2="455" y2="425"/>
<line x1="510" y1="355" x2="485" y2="365"/><line x1="515" y1="420" x2="485" y2="435"/>
<line x1="625" y1="395" x2="610" y2="367"/><line x1="625" y1="398" x2="610" y2="425"/>
<line x1="690" y1="375" x2="713" y2="385"/><line x1="690" y1="428" x2="713" y2="412"/>
<line x1="705" y1="324" x2="722" y2="340"/><line x1="845" y1="324" x2="848" y2="340"/>
<line x1="775" y1="382" x2="745" y2="395"/><line x1="790" y1="410" x2="832" y2="420"/><line x1="770" y1="432" x2="745" y2="425"/>
<line x1="882" y1="383" x2="862" y2="395"/><line x1="855" y1="438" x2="862" y2="425"/>
<line x1="119" y1="547" x2="119" y2="565"/><line x1="220" y1="547" x2="220" y2="565"/><line x1="320" y1="547" x2="320" y2="565"/><line x1="458" y1="547" x2="458" y2="565"/>
<line x1="628" y1="551" x2="625" y2="575"/>
<line x1="795" y1="549" x2="660" y2="562"/>
<line x1="893" y1="547" x2="893" y2="568"/>
</g>
<g class="lb">
<text x="683" y="75">Краска 5м WW_</text>
<text x="605" y="122">Укладка 1м WW_</text>
<text x="601" y="171">Расчёски 1м EL_</text>
<text x="805" y="150">Лицо 5м GH_</text>
<text x="933" y="155">Лицо премиум 1м GH_</text>
<text x="905" y="237">Парфюм 4м GH_</text>
<text x="1057" y="72">Декор 8</text>
<text x="410" y="265">Гигиена 3м WW_</text>
<text x="550" y="265">Гели 2м WW_</text>
<text x="217" y="343">ЧС 3м WW_</text>
<text x="82" y="400">Стирка 4м WW_</text>
<text x="253" y="405">Дети 3м GH_</text>
<text x="100" y="447">Уборка 1м GH_</text>
<text x="379" y="429">Вата 1м GH_</text>
<text x="199" y="481">Хозка 2м GH_</text>
<text x="276" y="481">Д/обуви,Насек. 1м GH_</text>
<text x="401" y="391">Бельё 2м GH_</text>
<text x="511" y="352">Колготки 2м GH_</text>
<text x="517" y="420">Носки 2м GH_</text>
<text x="636" y="377">Бижу д/волос 1м GH_</text>
<text x="626" y="397">Тепо 2м GH_</text>
<text x="635" y="429">Маникюр 1м GH_</text>
<text x="689" y="322">Косм.аксы 1м GH_</text>
<text x="816" y="322">Маски_д/лица 1м GH_</text>
<text x="755" y="381">Бритьё Ж 1м GH_</text>
<text x="772" y="408">Бритьё М 2м GH_</text>
<text x="760" y="432">Дезы Ж 1м GH_</text>
<text x="880" y="381">Минисайз 1м GH_</text>
<text x="855" y="441">СЕЗ_Солнце/Подарки 1м GH_</text>
<text x="82" y="545">Освежители 1м WW_</text>
<text x="199" y="545">ТБ 2м WW_</text>
<text x="293" y="545">Мыло 2м WW_</text>
<text x="417" y="545">Д/полости рта 3м WW_</text>
<text x="595" y="551">Мочалки 0,8м EV_</text>
<text x="747" y="548">Шампуни №5 1м WW_</text>
<text x="866" y="545">Шамп.ПРОФ 1м WW_</text>
</g>
<g class="sl">
<text x="146" y="490">Тапки 0,4м EV_</text>
<text x="323" y="490">СЕЗ_Зонты/Шапки 0,4м EV_</text>
<text x="432" y="481">Очки_коррект. 0,4м EV_</text>
<text x="475" y="474">ХозТов._Ремонт 0,4м EV_</text>
<text x="551" y="481">Подар.пакеты 0,4м EV_</text>
<text x="591" y="474">Маски_д/рук,ног 0,4м EV_</text>
<text x="676" y="494">Дет.декор 0,4м EV_</text>
<text x="713" y="486">Бижу_д/детей 0,4м EV_</text>
<text x="797" y="491">Бальз._д/губ 0,4м EV_</text>
<text x="847" y="487">Украшения 0,4м EV_</text>
<text x="913" y="251">На стелле</text>
<text x="913" y="258">с подсветкой</text>
<text x="913" y="270">С ящиками</text>
</g>
<g class="ln" stroke-width=".6"><line x1="911" y1="252" x2="945" y2="252"/><line x1="911" y1="271" x2="945" y2="271"/></g>

<!-- Right side annotations -->
<text x="1192" y="19" font-size="10" fill="#333">Зеркальный</text>
<text x="1193" y="33" font-size="10" fill="#333">угол</text>
<text x="1185" y="243" font-size="10" fill="#333">Зеркало 325 мм</text>
<text x="1192" y="424" font-size="10" fill="#333">Доска</text>
<text x="1192" y="438" font-size="10" fill="#333">инфо-ии 470мм</text>
<g font-size="16" fill="#333" text-anchor="middle">
<text transform="translate(1191 153) rotate(-90)" dy="6" textLength="87" lengthAdjust="spacingAndGlyphs">НА ПРОСВЕТ</text>
<text transform="translate(1215 156) rotate(-90)" dy="6" textLength="113" lengthAdjust="spacingAndGlyphs">ДВУСТОРОННИЕ</text>
<text transform="translate(1236 157) rotate(-90)" dy="6" textLength="87" lengthAdjust="spacingAndGlyphs">ЛАЙТБОКСЫ</text>
<text transform="translate(1191 321) rotate(-90)" dy="6" textLength="87" lengthAdjust="spacingAndGlyphs">НА ПРОСВЕТ</text>
<text transform="translate(1215 320) rotate(-90)" dy="6" textLength="113" lengthAdjust="spacingAndGlyphs">ДВУСТОРОННИЕ</text>
<text transform="translate(1236 320) rotate(-90)" dy="6" textLength="87" lengthAdjust="spacingAndGlyphs">ЛАЙТБОКСЫ</text>
</g>
<g font-size="15" fill="#333" text-anchor="middle">
<text x="1090" y="556" textLength="65" lengthAdjust="spacingAndGlyphs">ГЛАВНЫЙ</text>
<text x="1090" y="572" textLength="40" lengthAdjust="spacingAndGlyphs">ВХОД/</text>
<text x="1090" y="588" textLength="75" lengthAdjust="spacingAndGlyphs">РАЗГРУЗКА</text>
</g>
</svg>
</body></html>
